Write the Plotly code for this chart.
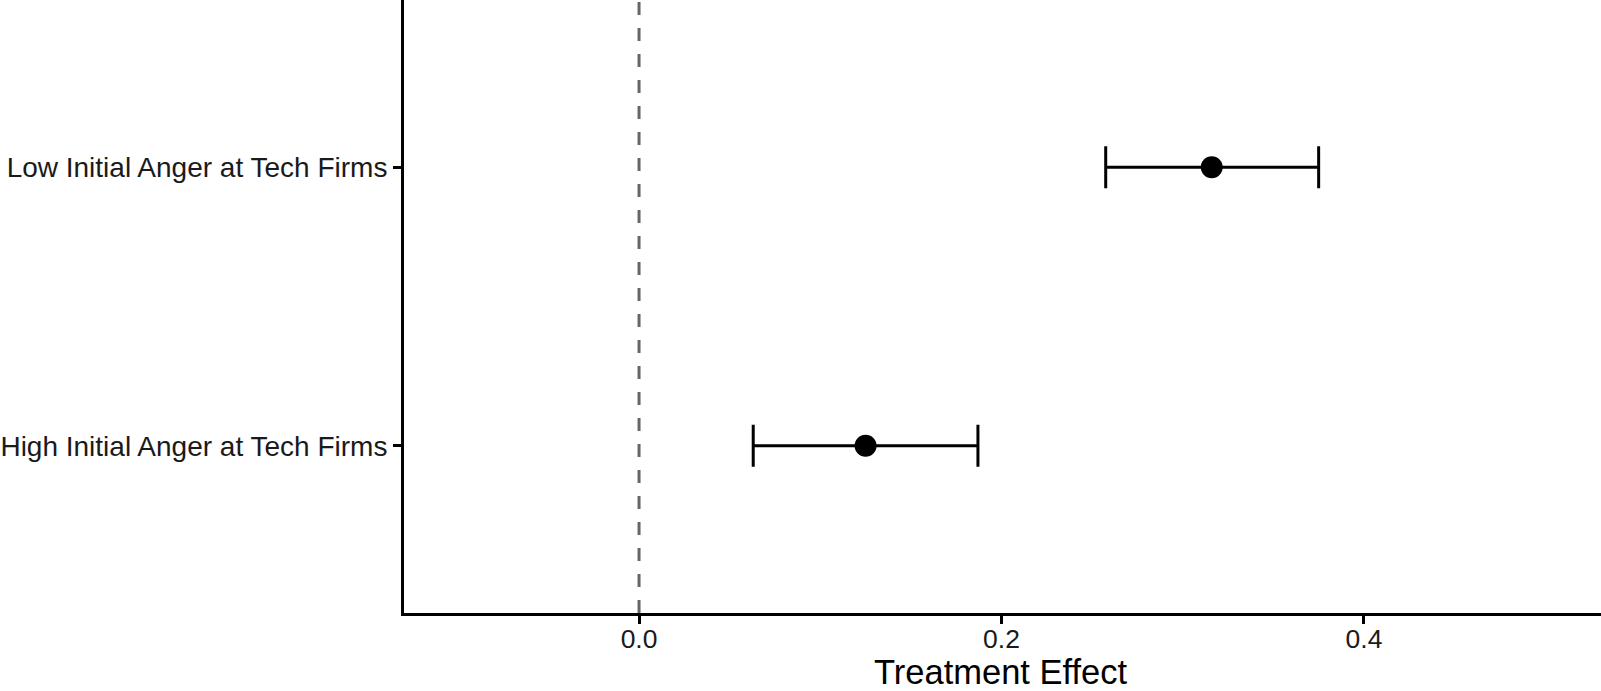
import plotly.graph_objects as go

categories = ["High Initial Anger at Tech Firms", "Low Initial Anger at Tech Firms"]
estimates = [0.125, 0.316]
ci_low = [0.063, 0.2575]
ci_high = [0.187, 0.375]
x_ticks = [0.0, 0.2, 0.4]
x_tick_labels = ["0.0", "0.2", "0.4"]
x_title = "Treatment Effect"

err_plus = [h - e for h, e in zip(ci_high, estimates)]
err_minus = [e - l for e, l in zip(estimates, ci_low)]

fig = go.Figure()
fig.add_trace(go.Scatter(
    x=estimates, y=categories, mode="markers",
    marker=dict(color="black", size=22),
    error_x=dict(type="data", array=err_plus, arrayminus=err_minus,
                 color="black", thickness=3, width=21),
    showlegend=False,
))

fig.add_shape(type="line", x0=0, x1=0, y0=0, y1=1, xref="x", yref="paper",
              line=dict(color="#666666", width=3, dash="13px,13px"), layer="below")

font = "Liberation Sans, Arial, sans-serif"
fig.add_annotation(text=x_title, xref="paper", yref="paper", x=(1001 - 404) / (1601 - 404),
                   y=0, xanchor="center", yanchor="middle", yshift=-58.5, showarrow=False,
                   font=dict(family=font, size=34.5, color="black"))

fig.update_layout(
    width=1601, height=691,
    margin=dict(l=404, r=0, t=0, b=78),
    paper_bgcolor="white", plot_bgcolor="white",
    font=dict(family=font, color="black"),
    xaxis=dict(range=[-0.1297, 0.5308], tickvals=x_ticks, ticktext=x_tick_labels,
               showline=True, linecolor="black", linewidth=3, showgrid=False,
               zeroline=False, ticks="outside", ticklen=8, tickwidth=3,
               tickcolor="black", tickfont=dict(size=26.5, color="#1a1a1a"),
               ticklabelstandoff=-8),
    yaxis=dict(type="category", categoryorder="array", categoryarray=categories,
               range=[-0.6, 1.6], showline=True, linecolor="black", linewidth=3,
               showgrid=False, zeroline=False, ticks="outside", ticklen=8,
               tickwidth=3, tickcolor="black", tickfont=dict(size=28, color="#1a1a1a")),
)

fig.write_html("out.html")
